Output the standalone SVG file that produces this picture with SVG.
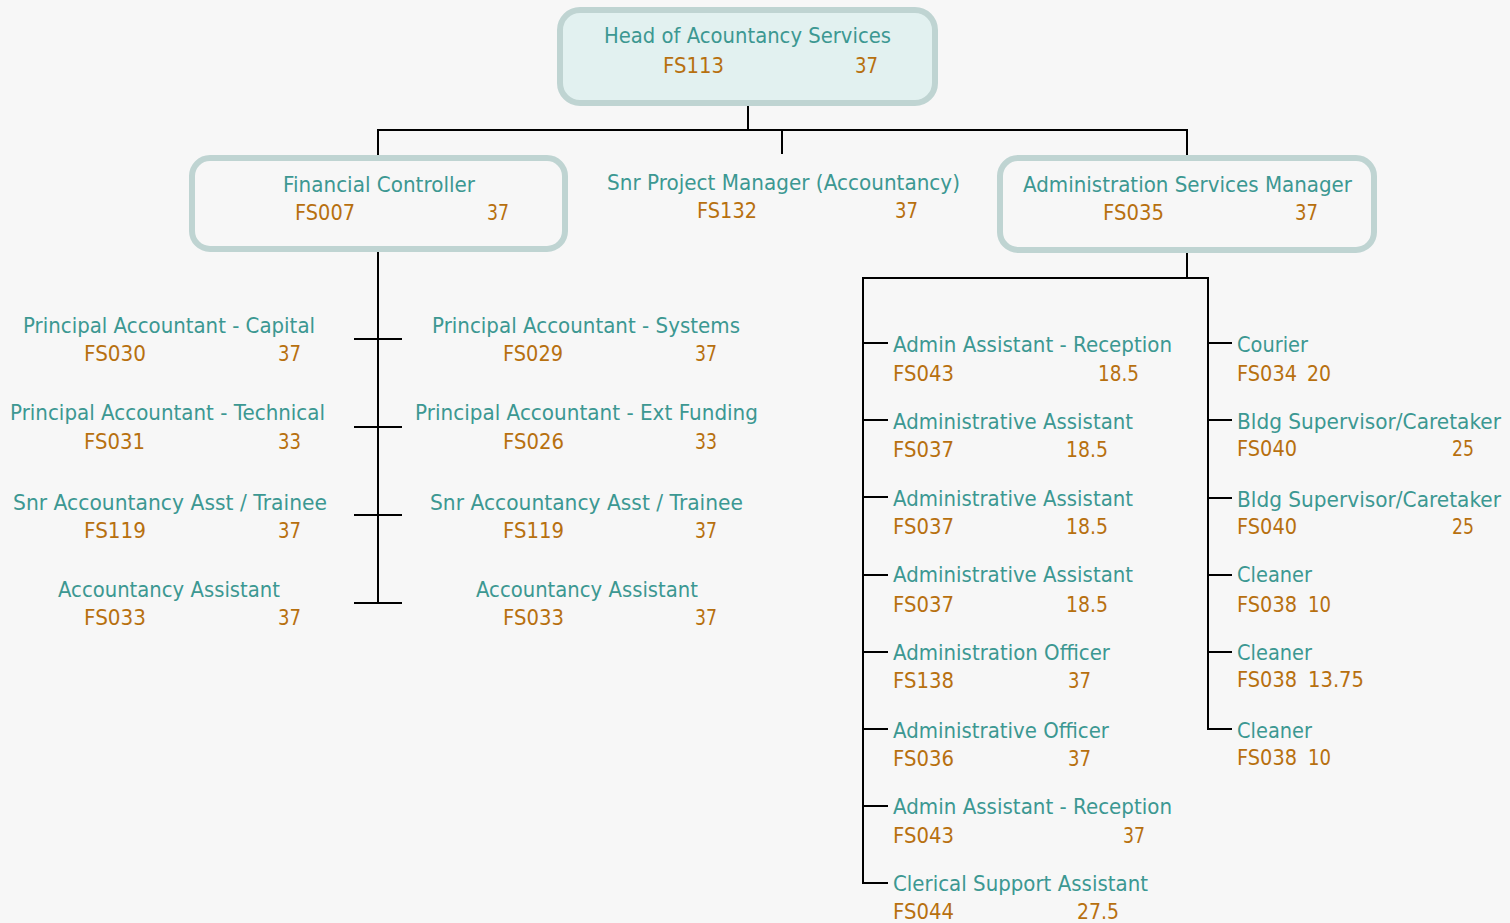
<svg xmlns="http://www.w3.org/2000/svg" width="1510" height="923" viewBox="0 0 1510 923">
<style>
text{font-family:"DejaVu Sans","Verdana",sans-serif;font-size:20.5px}
.t{fill:#3c9892}
.c{fill:#b7700f}
.box{fill:#f7f7f7;stroke:#bfd4d2;stroke-width:6}
.top{fill:#e2f1f0}
.ln{stroke:#000;stroke-width:2;fill:none}
</style>
<rect x="0" y="0" width="1510" height="923" fill="#f7f7f7"/>
<g id="connectors">
<path class="ln" d="M748 103V130M378 130H1187M378 129V158M782 129V154M1187 129V158"/>
<path class="ln" d="M378 249V603M354 339H402M354 427H402M354 515H402M354 603H402"/>
<path class="ln" d="M1187 250V278M863 278H1208M863 277V884M1208 277V730"/>
<path class="ln" d="M863 343H888M863 420H888M863 497H888M863 575H888M863 652H888M863 729H888M863 806H888M863 883H888"/>
<path class="ln" d="M1208 343H1232M1208 420H1232M1208 498H1232M1208 575H1232M1208 652H1232M1208 729H1232"/>
</g>
<g id="head">
<rect class="box top" x="560" y="10" width="375" height="93" rx="20"/>
<text class="t" x="604" y="43" textLength="287" lengthAdjust="spacingAndGlyphs">Head of Acountancy Services</text>
<text class="c" x="663" y="73" textLength="61" lengthAdjust="spacingAndGlyphs">FS113</text>
<text class="c" x="855" y="73" textLength="23" lengthAdjust="spacingAndGlyphs">37</text>
</g>
<g id="fc">
<rect class="box" x="192" y="158" width="373" height="91" rx="18"/>
<text class="t" x="283" y="192" textLength="192" lengthAdjust="spacingAndGlyphs">Financial Controller</text>
<text class="c" x="295" y="220" textLength="60" lengthAdjust="spacingAndGlyphs">FS007</text>
<text class="c" x="487" y="220" textLength="22" lengthAdjust="spacingAndGlyphs">37</text>
</g>
<g id="spm">
<text class="t" x="607" y="190" textLength="353" lengthAdjust="spacingAndGlyphs">Snr Project Manager (Accountancy)</text>
<text class="c" x="697" y="218" textLength="60" lengthAdjust="spacingAndGlyphs">FS132</text>
<text class="c" x="895" y="218" textLength="23" lengthAdjust="spacingAndGlyphs">37</text>
</g>
<g id="asm">
<rect class="box" x="1000" y="158" width="374" height="92" rx="18"/>
<text class="t" x="1023" y="192" textLength="329" lengthAdjust="spacingAndGlyphs">Administration Services Manager</text>
<text class="c" x="1103" y="220" textLength="61" lengthAdjust="spacingAndGlyphs">FS035</text>
<text class="c" x="1295" y="220" textLength="23" lengthAdjust="spacingAndGlyphs">37</text>
</g>
<g id="pa-capital">
<text class="t" x="23" y="333" textLength="292" lengthAdjust="spacingAndGlyphs">Principal Accountant - Capital</text>
<text class="c" x="84" y="361" textLength="62" lengthAdjust="spacingAndGlyphs">FS030</text>
<text class="c" x="278" y="361" textLength="23" lengthAdjust="spacingAndGlyphs">37</text>
</g>
<g id="pa-technical">
<text class="t" x="10" y="420" textLength="315" lengthAdjust="spacingAndGlyphs">Principal Accountant - Technical</text>
<text class="c" x="84" y="449" textLength="61" lengthAdjust="spacingAndGlyphs">FS031</text>
<text class="c" x="278" y="449" textLength="23" lengthAdjust="spacingAndGlyphs">33</text>
</g>
<g id="sat-left">
<text class="t" x="13" y="510" textLength="314" lengthAdjust="spacingAndGlyphs">Snr Accountancy Asst / Trainee</text>
<text class="c" x="84" y="538" textLength="62" lengthAdjust="spacingAndGlyphs">FS119</text>
<text class="c" x="278" y="538" textLength="23" lengthAdjust="spacingAndGlyphs">37</text>
</g>
<g id="aa-left">
<text class="t" x="58" y="597" textLength="222" lengthAdjust="spacingAndGlyphs">Accountancy Assistant</text>
<text class="c" x="84" y="625" textLength="62" lengthAdjust="spacingAndGlyphs">FS033</text>
<text class="c" x="278" y="625" textLength="23" lengthAdjust="spacingAndGlyphs">37</text>
</g>
<g id="pa-systems">
<text class="t" x="432" y="333" textLength="308" lengthAdjust="spacingAndGlyphs">Principal Accountant - Systems</text>
<text class="c" x="503" y="361" textLength="60" lengthAdjust="spacingAndGlyphs">FS029</text>
<text class="c" x="695" y="361" textLength="22" lengthAdjust="spacingAndGlyphs">37</text>
</g>
<g id="pa-ext">
<text class="t" x="415" y="420" textLength="343" lengthAdjust="spacingAndGlyphs">Principal Accountant - Ext Funding</text>
<text class="c" x="503" y="449" textLength="61" lengthAdjust="spacingAndGlyphs">FS026</text>
<text class="c" x="695" y="449" textLength="22" lengthAdjust="spacingAndGlyphs">33</text>
</g>
<g id="sat-right">
<text class="t" x="430" y="510" textLength="313" lengthAdjust="spacingAndGlyphs">Snr Accountancy Asst / Trainee</text>
<text class="c" x="503" y="538" textLength="61" lengthAdjust="spacingAndGlyphs">FS119</text>
<text class="c" x="695" y="538" textLength="22" lengthAdjust="spacingAndGlyphs">37</text>
</g>
<g id="aa-right">
<text class="t" x="476" y="597" textLength="222" lengthAdjust="spacingAndGlyphs">Accountancy Assistant</text>
<text class="c" x="503" y="625" textLength="61" lengthAdjust="spacingAndGlyphs">FS033</text>
<text class="c" x="695" y="625" textLength="22" lengthAdjust="spacingAndGlyphs">37</text>
</g>
<g id="aar-1">
<text class="t" x="893" y="352" textLength="279" lengthAdjust="spacingAndGlyphs">Admin Assistant - Reception</text>
<text class="c" x="893" y="381" textLength="61" lengthAdjust="spacingAndGlyphs">FS043</text>
<text class="c" x="1098" y="381" textLength="41" lengthAdjust="spacingAndGlyphs">18.5</text>
</g>
<g id="ada-1">
<text class="t" x="893" y="429" textLength="240" lengthAdjust="spacingAndGlyphs">Administrative Assistant</text>
<text class="c" x="893" y="457" textLength="61" lengthAdjust="spacingAndGlyphs">FS037</text>
<text class="c" x="1066" y="457" textLength="42" lengthAdjust="spacingAndGlyphs">18.5</text>
</g>
<g id="ada-2">
<text class="t" x="893" y="506" textLength="240" lengthAdjust="spacingAndGlyphs">Administrative Assistant</text>
<text class="c" x="893" y="534" textLength="61" lengthAdjust="spacingAndGlyphs">FS037</text>
<text class="c" x="1066" y="534" textLength="42" lengthAdjust="spacingAndGlyphs">18.5</text>
</g>
<g id="ada-3">
<text class="t" x="893" y="582" textLength="240" lengthAdjust="spacingAndGlyphs">Administrative Assistant</text>
<text class="c" x="893" y="612" textLength="61" lengthAdjust="spacingAndGlyphs">FS037</text>
<text class="c" x="1066" y="612" textLength="42" lengthAdjust="spacingAndGlyphs">18.5</text>
</g>
<g id="ao-1">
<text class="t" x="893" y="660" textLength="217" lengthAdjust="spacingAndGlyphs">Administration Officer</text>
<text class="c" x="893" y="688" textLength="61" lengthAdjust="spacingAndGlyphs">FS138</text>
<text class="c" x="1068" y="688" textLength="23" lengthAdjust="spacingAndGlyphs">37</text>
</g>
<g id="ao-2">
<text class="t" x="893" y="738" textLength="216" lengthAdjust="spacingAndGlyphs">Administrative Officer</text>
<text class="c" x="893" y="766" textLength="61" lengthAdjust="spacingAndGlyphs">FS036</text>
<text class="c" x="1068" y="766" textLength="23" lengthAdjust="spacingAndGlyphs">37</text>
</g>
<g id="aar-2">
<text class="t" x="893" y="814" textLength="279" lengthAdjust="spacingAndGlyphs">Admin Assistant - Reception</text>
<text class="c" x="893" y="843" textLength="61" lengthAdjust="spacingAndGlyphs">FS043</text>
<text class="c" x="1123" y="843" textLength="22" lengthAdjust="spacingAndGlyphs">37</text>
</g>
<g id="csa">
<text class="t" x="893" y="891" textLength="255" lengthAdjust="spacingAndGlyphs">Clerical Support Assistant</text>
<text class="c" x="893" y="919" textLength="61" lengthAdjust="spacingAndGlyphs">FS044</text>
<text class="c" x="1077" y="919" textLength="42" lengthAdjust="spacingAndGlyphs">27.5</text>
</g>
<g id="courier">
<text class="t" x="1237" y="352" textLength="71" lengthAdjust="spacingAndGlyphs">Courier</text>
<text class="c" x="1237" y="381" textLength="60" lengthAdjust="spacingAndGlyphs">FS034</text>
<text class="c" x="1307" y="381" textLength="24" lengthAdjust="spacingAndGlyphs">20</text>
</g>
<g id="bldg-1">
<text class="t" x="1237" y="429" textLength="264" lengthAdjust="spacingAndGlyphs">Bldg Supervisor/Caretaker</text>
<text class="c" x="1237" y="456" textLength="60" lengthAdjust="spacingAndGlyphs">FS040</text>
<text class="c" x="1452" y="456" textLength="22" lengthAdjust="spacingAndGlyphs">25</text>
</g>
<g id="bldg-2">
<text class="t" x="1237" y="507" textLength="264" lengthAdjust="spacingAndGlyphs">Bldg Supervisor/Caretaker</text>
<text class="c" x="1237" y="534" textLength="60" lengthAdjust="spacingAndGlyphs">FS040</text>
<text class="c" x="1452" y="534" textLength="22" lengthAdjust="spacingAndGlyphs">25</text>
</g>
<g id="cleaner-1">
<text class="t" x="1237" y="582" textLength="75" lengthAdjust="spacingAndGlyphs">Cleaner</text>
<text class="c" x="1237" y="612" textLength="60" lengthAdjust="spacingAndGlyphs">FS038</text>
<text class="c" x="1308" y="612" textLength="23" lengthAdjust="spacingAndGlyphs">10</text>
</g>
<g id="cleaner-2">
<text class="t" x="1237" y="660" textLength="75" lengthAdjust="spacingAndGlyphs">Cleaner</text>
<text class="c" x="1237" y="687" textLength="60" lengthAdjust="spacingAndGlyphs">FS038</text>
<text class="c" x="1308" y="687" textLength="56" lengthAdjust="spacingAndGlyphs">13.75</text>
</g>
<g id="cleaner-3">
<text class="t" x="1237" y="738" textLength="75" lengthAdjust="spacingAndGlyphs">Cleaner</text>
<text class="c" x="1237" y="765" textLength="60" lengthAdjust="spacingAndGlyphs">FS038</text>
<text class="c" x="1308" y="765" textLength="23" lengthAdjust="spacingAndGlyphs">10</text>
</g>
</svg>
